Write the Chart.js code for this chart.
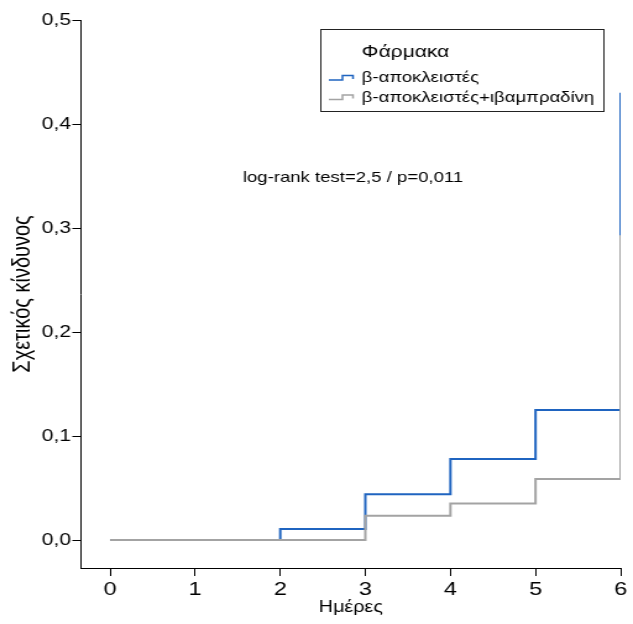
<!DOCTYPE html>
<html>
<head>
<meta charset="utf-8">
<script src="https://cdn.jsdelivr.net/npm/chart.js@4"></script>
<style>
html, body { margin: 0; padding: 0; background: #fff; }
#hazardChart { display: block; }
</style>
</head>
<body>
<!-- drawn at 512px wide and stretched to 633px, like the reference -->
<canvas id="hazardChart" width="512" height="624" style="width:633px;height:624px;"></canvas>
<script>
const days = [0, 2, 3, 4, 5, 6];
const betaBlockers = [0, 0.0106, 0.044, 0.078, 0.125, 0.43];
const comboDays = [0, 3, 4, 5, 6];
const betaPlusIvabradine = [0, 0.0234, 0.035, 0.0587, 0.293];

const xTicks = [0, 1, 2, 3, 4, 5, 6];
const yTicks = [0, 0.1, 0.2, 0.3, 0.4, 0.5];

const seriesLabels = ['β-αποκλειστές', 'β-αποκλειστές+ιβαμπραδίνη'];
const legendTitle = 'Φάρμακα';
const xTitle = 'Ημέρες';
const yTitle = 'Σχετικός κίνδυνος';
const testNote = 'log-rank test=2,5 / p=0,011';

const fontFamily = "'Liberation Sans', Arial, sans-serif";
const blue = '#1f64c0';
const grey = '#a3a3a3';

function toPoints(xs, ys) {
    return xs.map((x, i) => ({ x: x, y: ys[i] }));
}

// legend box and log-rank note
const legendBox = {
    id: 'legendBox',
    afterDraw(chart) {
        const ctx = chart.ctx;
        ctx.save();
        ctx.strokeStyle = '#222';
        ctx.lineWidth = 1;
        ctx.strokeRect(259.5, 29.5, 229, 82);

        ctx.fillStyle = '#000';
        ctx.textBaseline = 'middle';
        ctx.textAlign = 'left';
        ctx.font = '17px ' + fontFamily;
        ctx.fillText(legendTitle, 292.6, 52);

        ctx.font = '15px ' + fontFamily;
        const colors = [blue, grey];
        const rows = [78, 97.5];
        rows.forEach((y, i) => {
            ctx.strokeStyle = colors[i];
            ctx.lineWidth = 1.5;
            ctx.beginPath();
            ctx.moveTo(266, y + 2);
            ctx.lineTo(277, y + 2);
            ctx.lineTo(277, y - 2.5);
            ctx.lineTo(285.5, y - 2.5);
            ctx.lineTo(285.5, y + 1);
            ctx.stroke();
            ctx.fillText(seriesLabels[i], 292.6, y);
        });

        ctx.font = '15px ' + fontFamily;
        ctx.fillText(testNote, 196.4, 178);
        ctx.restore();
    }
};

const tickFormat = v => v.toFixed(1).replace('.', ',');

new Chart(document.getElementById('hazardChart').getContext('2d'), {
    type: 'line',
    data: {
        datasets: [{
            label: seriesLabels[0],
            data: toPoints(days, betaBlockers),
            borderColor: blue,
            borderWidth: 2,
            stepped: true,
            pointRadius: 0,
            fill: false,
            order: 1
        }, {
            label: seriesLabels[1],
            data: toPoints(comboDays, betaPlusIvabradine),
            borderColor: grey,
            borderWidth: 2,
            stepped: true,
            pointRadius: 0,
            fill: false,
            order: 0
        }]
    },
    options: {
        responsive: false,
        animation: false,
        layout: { padding: { top: 20, right: 10, left: 0, bottom: 0 } },
        plugins: {
            legend: { display: false },
            tooltip: { enabled: false }
        },
        scales: {
            x: {
                type: 'linear',
                min: -0.342,
                max: 6,
                afterBuildTicks: s => { s.ticks = xTicks.map(v => ({ value: v })); },
                afterFit: s => { s.height = 56; },
                ticks: { color: '#000', padding: 2, font: { family: fontFamily, size: 19 } },
                grid: { drawOnChartArea: false, tickLength: 8, color: '#000' },
                border: { color: '#000' },
                title: {
                    display: true,
                    text: xTitle,
                    color: '#000',
                    font: { family: fontFamily, size: 16, lineHeight: 1 },
                    padding: { top: 0, bottom: 8 }
                }
            },
            y: {
                type: 'linear',
                min: -0.0269,
                max: 0.5,
                afterBuildTicks: s => { s.ticks = yTicks.map(v => ({ value: v })); },
                afterFit: s => { s.width = 65.5; },
                ticks: { color: '#000', padding: 1, callback: tickFormat, font: { family: fontFamily, size: 17 } },
                grid: { drawOnChartArea: false, tickLength: 7, color: '#000' },
                border: { color: '#000' },
                title: {
                    display: true,
                    text: yTitle,
                    color: '#000',
                    font: { family: fontFamily, size: 20, lineHeight: 1 },
                    padding: { top: 8.6, bottom: 0 }
                }
            }
        }
    },
    plugins: [legendBox]
});
</script>
</body>
</html>
